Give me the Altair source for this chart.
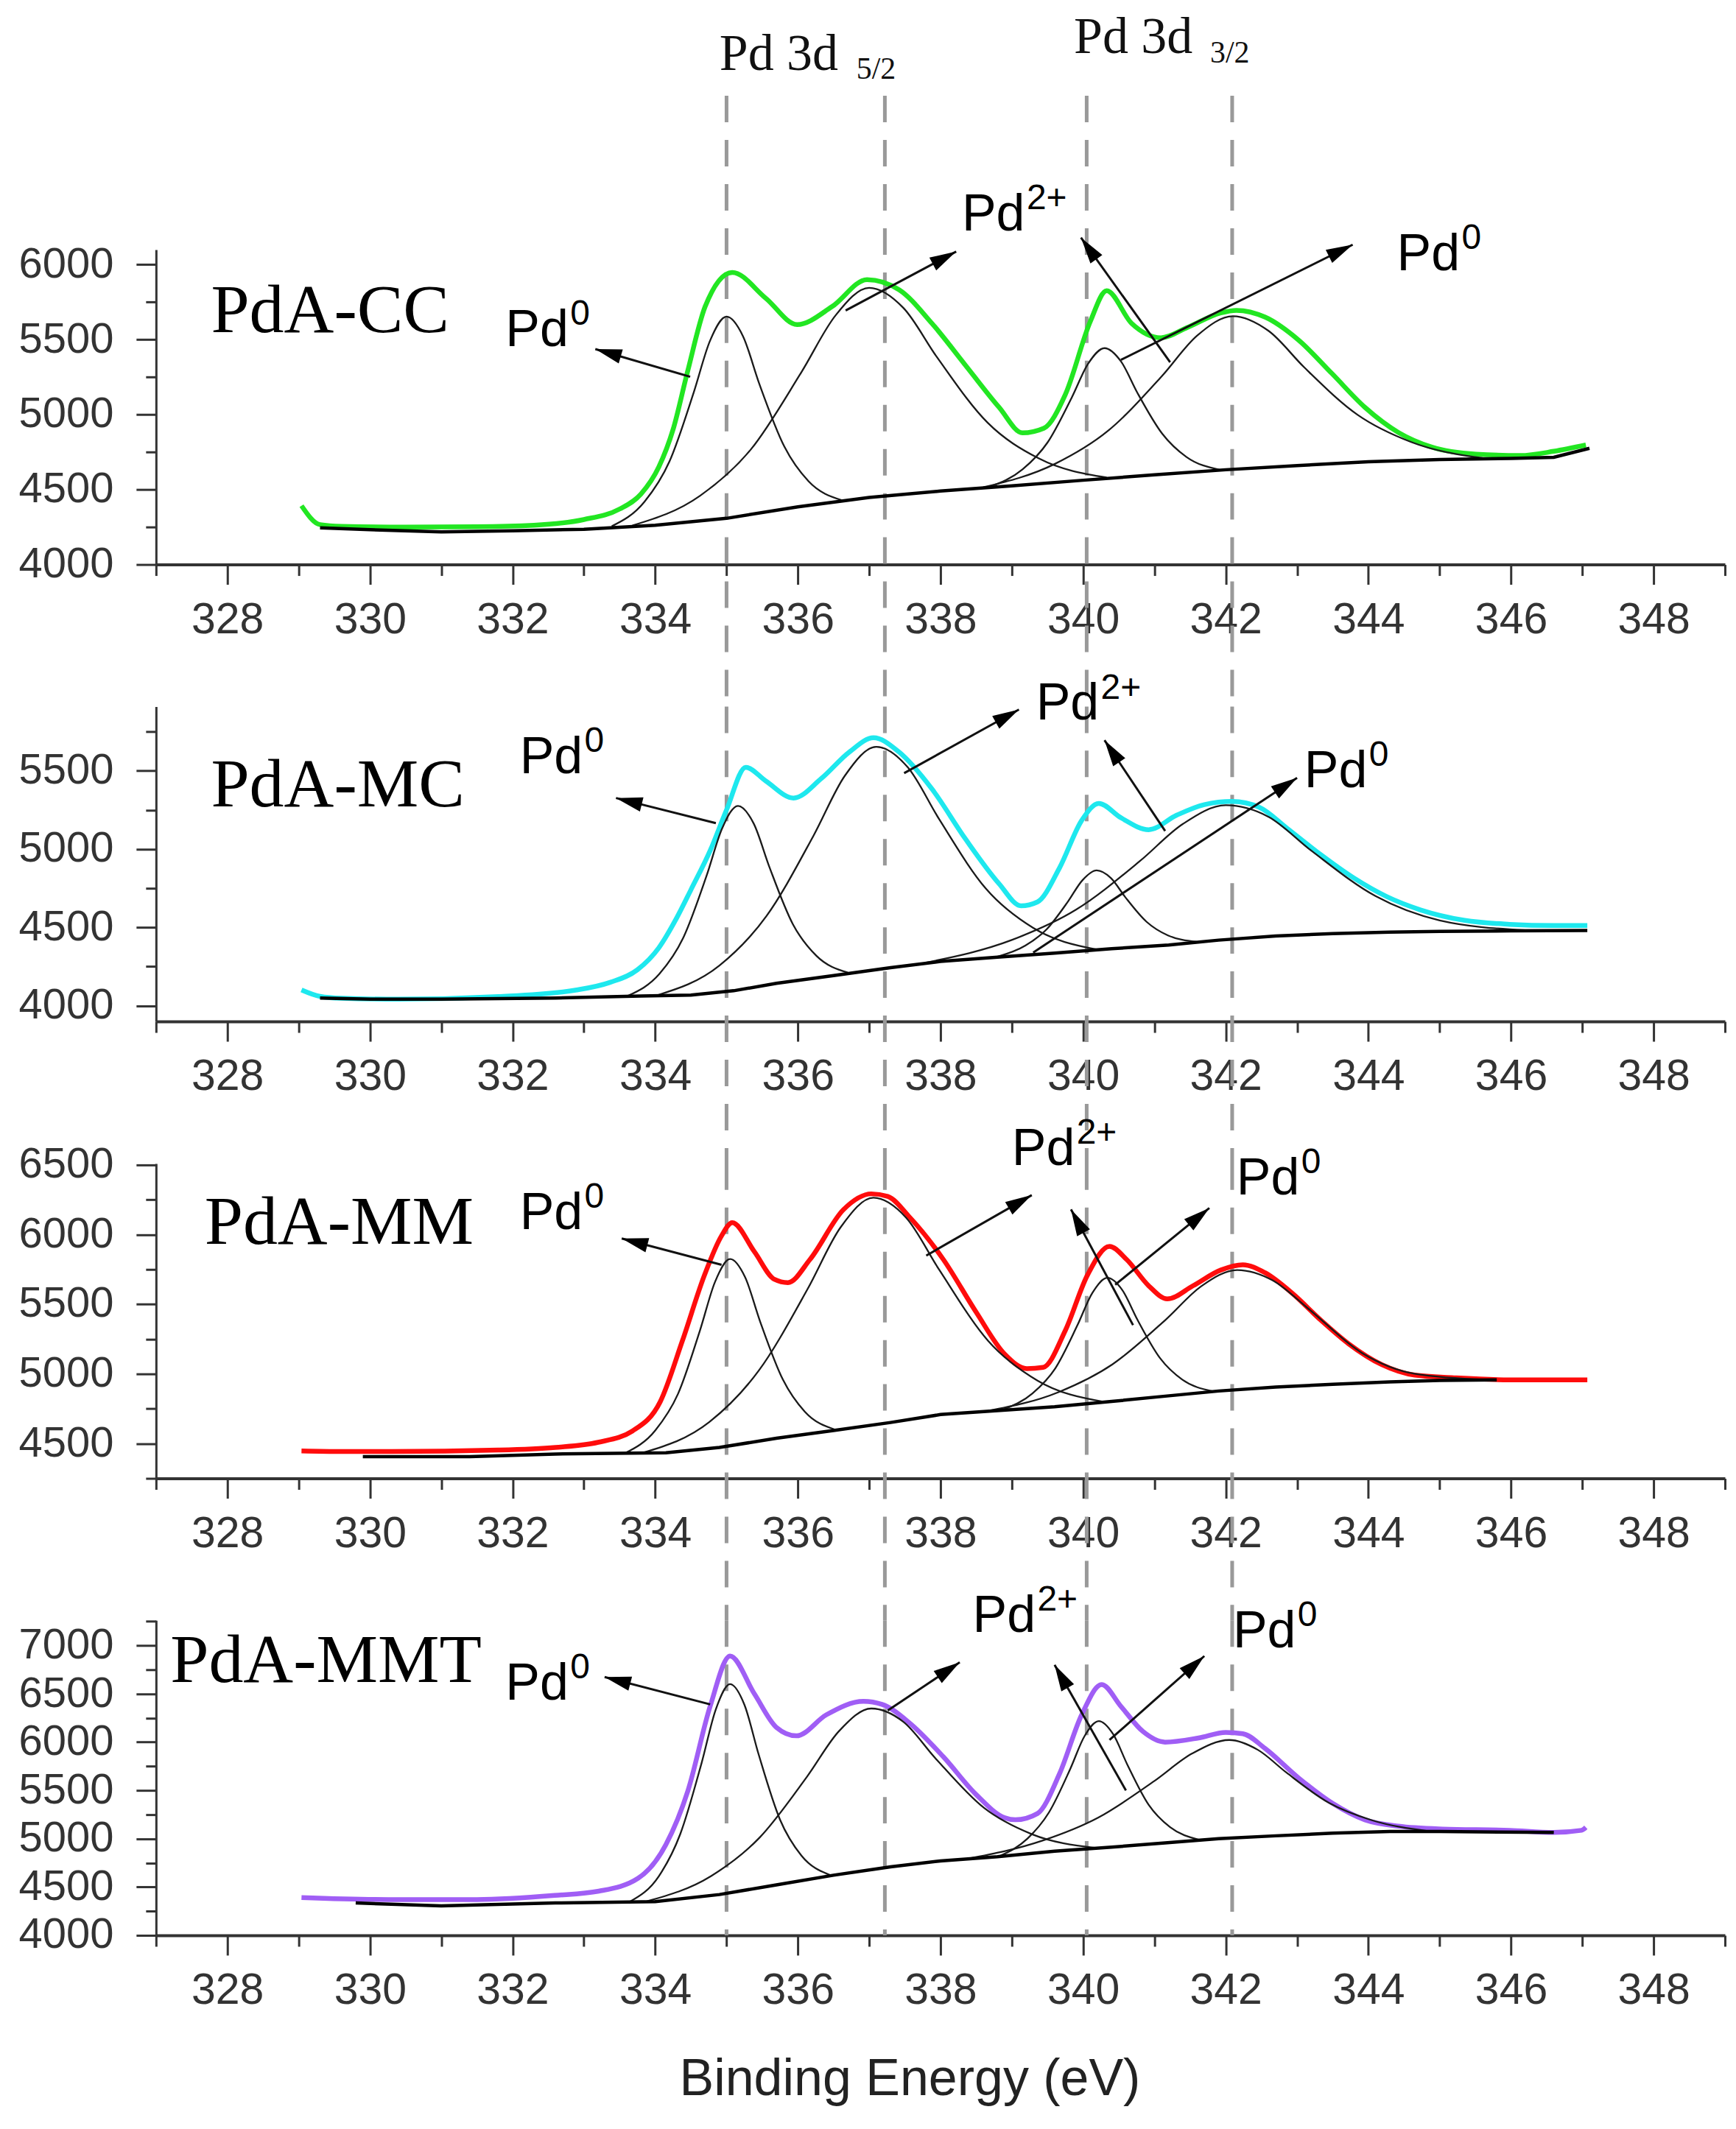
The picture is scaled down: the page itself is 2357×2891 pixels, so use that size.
import math

import altair as alt
import pandas as pd

# ---------------------------------------------------------------- data
# PdA-CC
cc_env_x = [329.04, 329.3, 329.6, 330.5, 331.5, 332.3, 333.0, 333.5, 333.8, 334.05, 334.25, 334.45,
            334.7, 335.08, 335.55, 335.99, 336.48, 336.97, 337.42, 337.88, 338.35, 338.82, 339.15,
            339.45, 339.75, 340.1, 340.33, 340.68, 341.09, 341.46, 341.93, 342.15, 342.55, 343.02,
            343.49, 343.95, 344.42, 344.89, 345.51, 346.13, 346.6, 347.05]
cc_env_y = [4392, 4266, 4255, 4250, 4252, 4262, 4300, 4370, 4470, 4650, 4900, 5280,
            5720, 5948, 5776, 5600, 5720, 5900, 5832, 5608, 5329, 5049, 4878,
            4909, 5133, 5620, 5826, 5608, 5512, 5580, 5678, 5695, 5650, 5497,
            5273, 5049, 4881, 4783, 4736, 4727, 4755, 4797]
cc_base_x = [329.3, 330, 331, 332, 333, 334, 335, 336, 337, 338, 339, 340, 341, 342, 343, 344,
             345, 346, 346.6, 347.1]
cc_base_y = [4245, 4232, 4218, 4225, 4235, 4262, 4308, 4385, 4447, 4490, 4525, 4562, 4598, 4632,
             4660, 4685, 4700, 4708, 4715, 4775]
cc_fit_x = [
    [333.39, 333.85, 334.2, 334.54, 334.77, 335.0, 335.23, 335.46, 335.81, 336.15, 336.61],
    [333.68, 334.63, 335.34, 336.05, 336.53, 337.0, 337.48, 337.95, 338.66, 339.38, 340.33],
    [338.69, 339.15, 339.5, 339.84, 340.07, 340.3, 340.53, 340.76, 341.11, 341.45, 341.91],
    [338.6, 339.6, 340.35, 341.1, 341.6, 342.1, 342.6, 343.1, 343.85, 344.6, 345.6],
]
cc_fit_y = [
    [4255, 4419, 4688, 5148, 5494, 5653, 5523, 5204, 4787, 4555, 4430],
    [4260, 4459, 4767, 5283, 5662, 5845, 5711, 5383, 4946, 4707, 4580],
    [4518, 4634, 4813, 5113, 5339, 5443, 5355, 5146, 4872, 4717, 4632],
    [4515, 4670, 4892, 5254, 5527, 5656, 5558, 5315, 4998, 4817, 4710],
]

# PdA-MC
mc_env_x = [329.04, 329.3, 329.6, 330.4, 331.8, 332.9, 333.37, 333.75, 334.05, 334.3, 334.5,
            334.77, 335.0, 335.27, 335.55, 335.94, 336.33, 336.72, 337.06, 337.42, 337.88, 338.35,
            338.82, 339.13, 339.36, 339.67, 339.98, 340.22, 340.53, 340.92, 341.31, 341.7, 342.09,
            342.47, 342.86, 343.33, 343.8, 344.26, 344.73, 345.35, 345.98, 346.6, 347.07]
mc_env_y = [4101, 4060, 4048, 4042, 4059, 4101, 4150, 4230, 4370, 4560, 4740,
            4990, 5250, 5522, 5435, 5326, 5451, 5619, 5711, 5619, 5384, 5065,
            4780, 4638, 4663, 4881, 5183, 5292, 5200, 5124, 5216, 5284, 5304,
            5267, 5133, 4965, 4814, 4696, 4612, 4545, 4520, 4512, 4512]
mc_base_x = [329.3, 330, 331, 332.6, 333.8, 334.5, 335.1, 335.7, 336.5, 337.3, 338, 338.8, 339.6,
             340.4, 341.2, 341.9, 342.7, 343.5, 344.3, 345, 346, 347.07]
mc_base_y = [4050, 4042, 4042, 4050, 4062, 4068, 4096, 4143, 4193, 4243, 4283, 4310, 4336,
             4364, 4388, 4419, 4445, 4461, 4470, 4475, 4478, 4481]
mc_fit_x = [
    [333.62, 334.06, 334.39, 334.72, 334.94, 335.16, 335.38, 335.6, 335.93, 336.26, 336.7],
    [334.02, 334.9, 335.56, 336.22, 336.66, 337.1, 337.54, 337.98, 338.64, 339.3, 340.18],
    [338.79, 339.19, 339.49, 339.79, 339.99, 340.19, 340.39, 340.59, 340.89, 341.19, 341.59],
    [337.8, 339.0, 339.9, 340.8, 341.4, 342.0, 342.6, 343.2, 344.1, 345.0, 346.2],
]
mc_fit_y = [
    [4064, 4204, 4431, 4830, 5134, 5276, 5164, 4887, 4521, 4319, 4212],
    [4066, 4257, 4573, 5086, 5469, 5653, 5523, 5192, 4746, 4497, 4360],
    [4312, 4384, 4489, 4667, 4801, 4864, 4815, 4694, 4536, 4449, 4408],
    [4276, 4420, 4613, 4925, 5161, 5280, 5206, 4990, 4700, 4545, 4482],
]

# PdA-MM
mm_env_x = [329.04, 329.6, 330.3, 331.8, 332.6, 333.2, 333.68, 334.07, 334.38, 334.69, 334.93,
            335.08, 335.39, 335.67, 335.86, 336.17, 336.64, 337.03, 337.26, 337.57, 338.04, 338.5,
            338.9, 339.21, 339.44, 339.75, 340.06, 340.37, 340.61, 340.92, 341.18, 341.54, 341.93,
            342.24, 342.55, 342.94, 343.33, 343.72, 344.19, 344.65, 345.2, 345.98, 347.07]
mm_env_y = [4447, 4443, 4443, 4453, 4472, 4509, 4590, 4800, 5236, 5708, 5991,
            6085, 5877, 5679, 5655, 5821, 6179, 6292, 6274, 6123, 5821, 5443,
            5142, 5038, 5047, 5311, 5708, 5915, 5821, 5632, 5538, 5632, 5745,
            5783, 5726, 5575, 5387, 5217, 5066, 4991, 4972, 4957, 4957]
mm_base_x = [329.9, 331.4, 332.6, 334.15, 334.9, 335.7, 336.5, 337.3, 338, 338.8, 339.6, 340.4,
             341.15, 341.9, 342.7, 343.5, 344.3, 345, 345.8]
mm_base_y = [4406, 4406, 4425, 4434, 4472, 4538, 4594, 4651, 4708, 4736, 4764, 4802,
             4840, 4877, 4906, 4925, 4943, 4953, 4957]
mm_fit_x = [
    [333.58, 334.0, 334.32, 334.63, 334.84, 335.05, 335.26, 335.47, 335.79, 336.1, 336.52],
    [333.84, 334.76, 335.45, 336.14, 336.6, 337.06, 337.52, 337.98, 338.67, 339.36, 340.28],
    [338.87, 339.29, 339.61, 339.92, 340.13, 340.34, 340.55, 340.76, 341.08, 341.39, 341.81],
    [338.66, 339.66, 340.41, 341.16, 341.66, 342.16, 342.66, 343.16, 343.91, 344.66, 345.66],
]
mm_fit_y = [
    [4432, 4594, 4857, 5316, 5662, 5824, 5694, 5377, 4959, 4727, 4600],
    [4436, 4655, 5022, 5612, 6052, 6264, 6120, 5749, 5236, 4952, 4800],
    [4742, 4860, 5040, 5349, 5581, 5689, 5601, 5390, 5112, 4959, 4876],
    [4733, 4870, 5068, 5390, 5630, 5745, 5670, 5467, 5150, 5000, 4958],
]

# PdA-MMT
mmt_env_x = [329.04, 330.26, 331.5, 332.59, 333.21, 333.76, 334.15, 334.46, 334.77, 335.05, 335.39,
             335.7, 335.98, 336.4, 336.92, 337.18, 337.57, 338.04, 338.5, 338.9, 339.05, 339.36,
             339.67, 339.98, 340.26, 340.53, 340.84, 341.15, 341.62, 342.0, 342.24, 342.55, 343.02,
             343.49, 343.95, 344.42, 345.04, 345.98, 346.6, 346.99, 347.05]
mmt_env_y = [4391, 4370, 4370, 4413, 4457, 4590, 4940, 5500, 6370, 6891, 6500,
             6152, 6065, 6283, 6422, 6391, 6196, 5848, 5457, 5217, 5196, 5261,
             5674, 6283, 6596, 6370, 6109, 6000, 6043, 6100, 6087, 5935, 5630,
             5370, 5196, 5130, 5100, 5087, 5065, 5087, 5117]
mmt_base_x = [329.8, 331, 332.6, 334, 334.9, 335.7, 336.5, 337.3, 338, 338.8, 339.6, 340.4,
              341.15, 341.9, 342.7, 343.5, 344.3, 345, 346.6]
mmt_base_y = [4335, 4304, 4335, 4348, 4422, 4522, 4622, 4709, 4770, 4813, 4870, 4913,
              4957, 5000, 5030, 5057, 5074, 5074, 5065]
mmt_fit_x = [
    [333.65, 334.05, 334.35, 334.65, 334.85, 335.05, 335.25, 335.45, 335.75, 336.05, 336.45],
    [333.88, 334.78, 335.46, 336.13, 336.58, 337.03, 337.48, 337.93, 338.61, 339.28, 340.18],
    [338.82, 339.22, 339.52, 339.82, 340.02, 340.22, 340.42, 340.62, 340.92, 341.22, 341.62],
    [338.38, 339.43, 340.21, 341.0, 341.53, 342.05, 342.45, 342.85, 343.45, 344.05, 344.85],
]
mmt_fit_y = [
    [4350, 4611, 5046, 5783, 6340, 6600, 6388, 5873, 5197, 4825, 4625],
    [4352, 4612, 5009, 5644, 6116, 6348, 6210, 5832, 5319, 5047, 4905],
    [4818, 5001, 5271, 5723, 6062, 6217, 6083, 5767, 5350, 5119, 4990],
    [4792, 4980, 5218, 5598, 5882, 6022, 5920, 5685, 5370, 5191, 5078],
]

# arrows: (x from, y from, x tip, y tip)
cc_arrows = [(334.49, 5252, 333.16, 5437), (336.67, 5694, 338.22, 6087),
             (341.22, 5349, 339.97, 6180), (340.53, 5365, 343.78, 6133)]
mc_arrows = [(334.85, 5166, 333.45, 5326), (337.49, 5485, 339.1, 5891),
             (341.15, 5116, 340.3, 5695), (339.3, 4340, 343.0, 5455)]
mm_arrows = [(334.93, 5783, 333.53, 5972), (337.8, 5849, 339.28, 6283),
             (340.7, 5350, 339.83, 6180), (340.45, 5640, 341.77, 6190)]
mmt_arrows = [(334.77, 6391, 333.29, 6674), (337.26, 6326, 338.27, 6826),
              (340.6, 5500, 339.6, 6800), (340.37, 6022, 341.7, 6891)]

# species labels: (superscript, x, y)
cc_labels = [("0", 331.9, 5455), ("2+", 338.3, 6227), ("0", 344.4, 5962)]
mc_labels = [("0", 332.1, 5485), ("2+", 339.34, 5825), ("0", 343.1, 5395)]
mm_labels = [("0", 332.1, 6040), ("2+", 339.0, 6500), ("0", 342.15, 6285)]
mmt_labels = [("0", 331.9, 6440), ("2+", 338.45, 7140), ("0", 342.1, 6980)]

sample_names = ["PdA-CC", "PdA-MC", "PdA-MM", "PdA-MMT"]
sample_name_x = [327.77, 327.77, 327.68, 327.2]
sample_name_y = [5548, 5275, 5932, 6625]
sample_colors = ["#22e622", "#1ee8ee", "#ff0c0c", "#a05ef5"]

y_domains = [[4000, 6100], [3900, 5910], [4250, 6510], [4000, 7260]]
y_ticks = [list(range(4000, 6001, 250)), list(range(4000, 5751, 250)),
           list(range(4250, 6501, 250)), list(range(4000, 7251, 250))]

peak_lines = [335.0, 337.22, 340.05, 342.09]
header_text = ["Pd 3d", "Pd 3d"]
header_x = [334.9, 339.87]
header_sub = ["5/2", "3/2"]
header_sub_x = [336.82, 341.78]

x_ticks = list(range(327, 350))

# ---------------------------------------------------------------- layout
PLOT_W = 2132
PLOT_H = 428
GAP = 193
X_DOMAIN = [327, 349]
PX_PER_EV = PLOT_W / (X_DOMAIN[1] - X_DOMAIN[0])
SANS = "Liberation Sans"
SERIF = "Liberation Serif"
ARROW_PATH = "M0,0 L0.55,2 L-0.55,2 Z"
HEADER_Y = [-244, -267]      # baseline of the two "Pd 3d" headers, px above panel 1
HEADER_SUB_Y = [-232, -254]

X_SCALE = alt.Scale(domain=X_DOMAIN, nice=False, zero=False)


def x_enc(field, bottom):
    axis = alt.Axis(
        values=x_ticks,
        format="d",
        labelExpr="datum.value % 2 === 0 ? datum.label : ''",
        labelOverlap=False,
        labelFlush=False,
        labelFont=SANS,
        labelFontSize=59,
        labelColor="#333333",
        labelPadding=19,
        tickSize={"condition": {"test": "datum.value % 2 === 0", "value": 27}, "value": 15},
        tickWidth=3,
        tickColor="#333333",
        domainWidth=4,
        domainColor="#333333",
        grid=False,
        title="Binding Energy (eV)" if bottom else None,
        titleFont=SANS,
        titleFontSize=70,
        titleFontWeight="normal",
        titleColor="#222222",
        titleX=1024,
        titleY=217,
        titleBaseline="alphabetic",
    )
    return alt.X(f"{field}:Q", scale=X_SCALE, axis=axis)


def y_enc(field, idx):
    axis = alt.Axis(
        values=y_ticks[idx],
        format="d",
        labelExpr="datum.value % 500 === 0 ? datum.label : ''",
        labelOverlap=False,
        labelFlush=False,
        labelFont=SANS,
        labelFontSize=58,
        labelColor="#333333",
        labelPadding=31,
        tickSize={"condition": {"test": "datum.value % 500 === 0", "value": 27}, "value": 14},
        tickWidth=3,
        tickColor="#333333",
        domainWidth=3,
        domainColor="#333333",
        grid=False,
        title=None,
    )
    return alt.Y(f"{field}:Q", scale=alt.Scale(domain=y_domains[idx], nice=False, zero=False),
                 axis=axis)


def fit_frame(xs_list, ys_list):
    rows = []
    for i, (xs, ys) in enumerate(zip(xs_list, ys_list)):
        rows += [{"x": x, "y": y, "curve": i} for x, y in zip(xs, ys)]
    return pd.DataFrame(rows)


def head_angle(x1, y1, x2, y2, domain):
    sx = (x2 - x1) * PX_PER_EV
    sy = -(y2 - y1) * PLOT_H / (domain[1] - domain[0])
    return math.degrees(math.atan2(sx, -sy)) % 360


def panel(idx, env_x, env_y, base_x, base_y, fit_x, fit_y, arrows, labels):
    bottom = idx == 3
    X = lambda f="x": x_enc(f, bottom)
    Y = lambda f="y": y_enc(f, idx)

    top = -209 if idx == 0 else 0
    end = PLOT_H if bottom else PLOT_H + GAP
    rules = alt.Chart(pd.DataFrame({"x": peak_lines})).mark_rule(
        color="#999999", strokeWidth=5, strokeDash=[36, 24]
    ).encode(x=X(), y=alt.value(top), y2=alt.value(end))

    env = alt.Chart(pd.DataFrame({"x": env_x, "y": env_y})).mark_line(
        color=sample_colors[idx], strokeWidth=6.5, interpolate="monotone"
    ).encode(x=X(), y=Y())

    fits = alt.Chart(fit_frame(fit_x, fit_y)).mark_line(
        color="#1a1a1a", strokeWidth=2.3, interpolate="monotone"
    ).encode(x=X(), y=Y(), detail="curve:N")

    base = alt.Chart(pd.DataFrame({"x": base_x, "y": base_y})).mark_line(
        color="black", strokeWidth=4.5
    ).encode(x=X(), y=Y())

    arrow_df = pd.DataFrame(
        [{"x": a, "y": b, "x2": c, "y2": d,
          "angle": head_angle(a, b, c, d, y_domains[idx])} for a, b, c, d in arrows]
    )
    shafts = alt.Chart(arrow_df).mark_rule(color="#111111", strokeWidth=3).encode(
        x=X(), y=Y(), x2="x2:Q", y2="y2:Q"
    )
    heads = alt.Chart(arrow_df).mark_point(
        shape=ARROW_PATH, filled=True, color="black", size=1296, opacity=1, strokeWidth=0
    ).encode(x=X("x2"), y=Y("y2"), angle=alt.Angle("angle:Q", scale=None))

    lab_df = pd.DataFrame([{"x": x, "y": y, "sup": s, "main": "Pd"} for s, x, y in labels])
    lab_main = alt.Chart(lab_df).mark_text(
        font=SANS, fontSize=70, align="left", baseline="alphabetic", color="black"
    ).encode(x=X(), y=Y(), text="main:N")
    lab_sup = alt.Chart(lab_df).mark_text(
        font=SANS, fontSize=48, align="left", baseline="alphabetic", color="black",
        dx=88, dy=-29
    ).encode(x=X(), y=Y(), text="sup:N")

    name_df = pd.DataFrame({"x": [sample_name_x[idx]], "y": [sample_name_y[idx]],
                            "t": [sample_names[idx]]})
    name = alt.Chart(name_df).mark_text(
        font=SERIF, fontSize=94, align="left", baseline="alphabetic", color="black"
    ).encode(x=X(), y=Y(), text="t:N")

    layers = [rules, env, fits, base, shafts, heads, lab_main, lab_sup, name]

    if idx == 0:
        for hx, ht, hy, sx, st, sy in zip(header_x, header_text, HEADER_Y,
                                          header_sub_x, header_sub, HEADER_SUB_Y):
            main_txt = alt.Chart(pd.DataFrame({"x": [hx], "t": [ht]})).mark_text(
                font=SERIF, fontSize=70, align="left", baseline="alphabetic", color="#111111"
            ).encode(x=X(), y=alt.value(hy), text="t:N")
            sub_txt = alt.Chart(pd.DataFrame({"x": [sx], "t": [st]})).mark_text(
                font=SERIF, fontSize=42, align="left", baseline="alphabetic", color="#111111"
            ).encode(x=X(), y=alt.value(sy), text="t:N")
            layers += [main_txt, sub_txt]

    return alt.layer(*layers).properties(width=PLOT_W, height=PLOT_H)


panels = [
    panel(0, cc_env_x, cc_env_y, cc_base_x, cc_base_y, cc_fit_x, cc_fit_y, cc_arrows, cc_labels),
    panel(1, mc_env_x, mc_env_y, mc_base_x, mc_base_y, mc_fit_x, mc_fit_y, mc_arrows, mc_labels),
    panel(2, mm_env_x, mm_env_y, mm_base_x, mm_base_y, mm_fit_x, mm_fit_y, mm_arrows, mm_labels),
    panel(3, mmt_env_x, mmt_env_y, mmt_base_x, mmt_base_y, mmt_fit_x, mmt_fit_y, mmt_arrows,
          mmt_labels),
]

chart = (
    alt.vconcat(*panels, spacing=GAP, bounds="flush")
    .properties(padding={"left": 16, "top": 7, "right": 5, "bottom": 5})
    .configure_view(strokeWidth=0)
)

chart.save("out.html", embed_options={"renderer": "svg", "actions": False})
